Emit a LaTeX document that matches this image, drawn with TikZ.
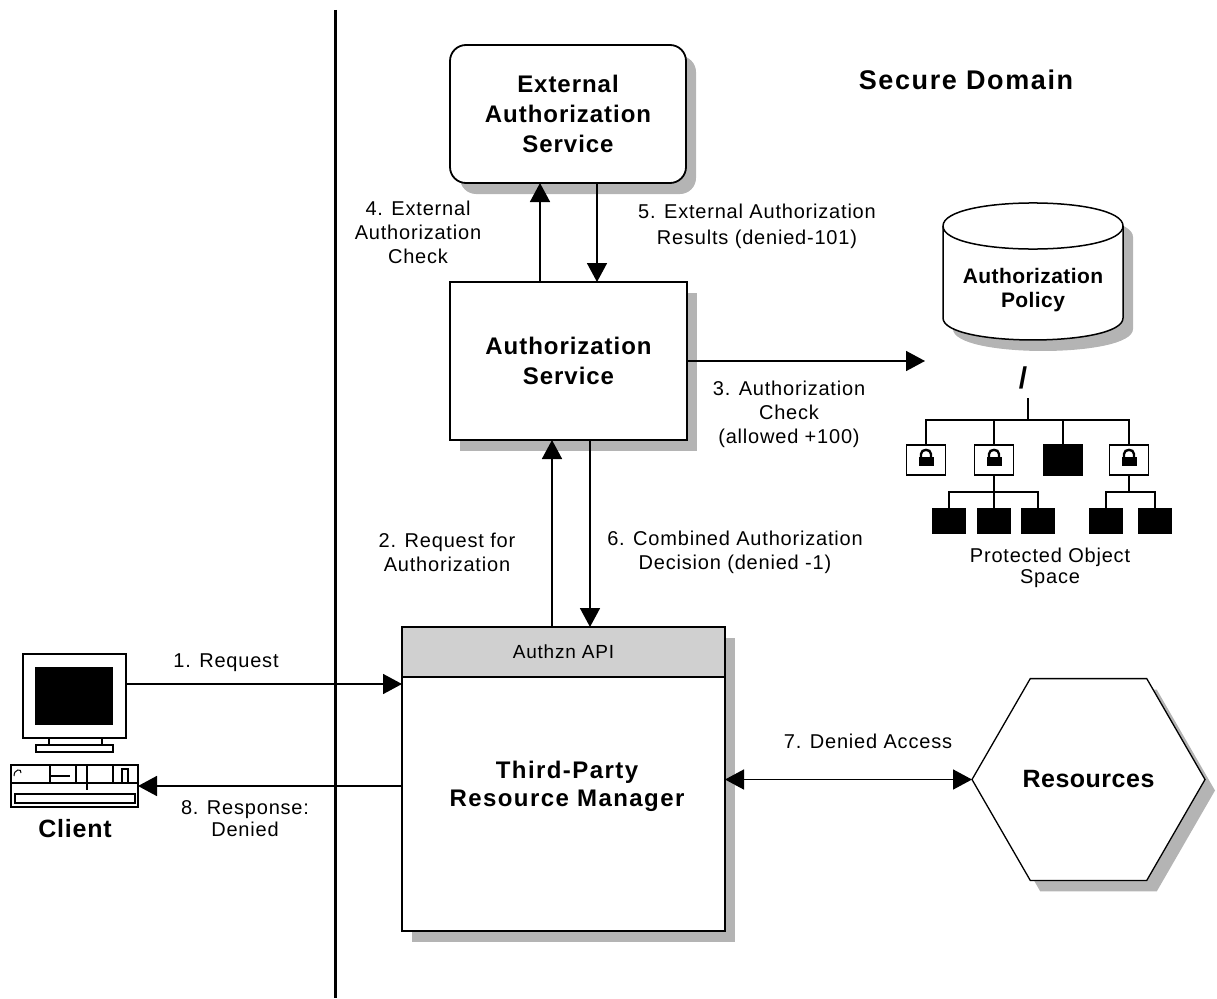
\documentclass[tikz,border=0pt]{standalone}
\usepackage{fontspec}
\setmainfont{Liberation Sans}
\usetikzlibrary{shapes.geometric,shadows,arrows.meta,calc}
\definecolor{shadowgray}{HTML}{B4B4B4}
\definecolor{apigray}{HTML}{D0D0D0}
\newcommand\lsp[1]{\addfontfeature{LetterSpace=#1}}
\tikzset{
  padlock/.pic={
    \fill (-7.5,-3) rectangle (7.5,6);
    \draw[line width=2.4pt] (-5,-3) -- (-5,-6) .. controls (-5,-11.5) and (5,-11.5) .. (5,-6) -- (5,-3);
  }
}
\begin{document}
\begin{tikzpicture}[x=1pt,y=-1pt,
  lbl/.style={font=\fontsize{20}{24}\selectfont\lsp{4}, align=center, inner sep=0pt},
  boldtxt/.style={font=\fontsize{24}{30}\selectfont\bfseries\lsp{4}, align=center},
  shad/.style={drop shadow={shadow xshift=10pt,shadow yshift=-11pt,fill=shadowgray,opacity=1}},
  box/.style={draw, line width=1.8pt, fill=white, inner sep=0pt, outer sep=0pt, shad},
  arr/.style={line width=1.6pt, -{Triangle[length=19pt,width=20pt]}},
  arrtwo/.style={line width=1.6pt, {Triangle[length=19pt,width=20pt]}-{Triangle[length=19pt,width=20pt]}},
  tline/.style={line width=1.4pt},
  tbox/.style={draw, line width=1.4pt, minimum width=39pt, minimum height=30pt, inner sep=0pt, outer sep=0pt},
  tleaf/.style={draw, fill=black, line width=1pt, minimum width=33pt, minimum height=25pt, inner sep=0pt, outer sep=0pt},
  pcline/.style={line width=1.3pt}
]
\useasboundingbox (0,0) rectangle (1217,998);

% divider
\coordinate (dtop) at (335,10);
\coordinate (dbot) at (335,998);
\draw[line width=3pt] (dtop) -- (dbot);

\node[boldtxt, font=\fontsize{27}{30}\selectfont\bfseries\lsp{6}] (secure) at (966,80) {Secure Domain};

% external authorization service
\node[box, rounded corners=16pt, minimum width=236pt, minimum height=138pt, boldtxt] (eas) at (568,114) {External\\Authorization\\Service};

% authorization service
\node[box, minimum width=237pt, minimum height=158pt, boldtxt] (as) at (568.5,361) {Authorization\\Service};

% resource manager
\node[box, minimum width=323pt, minimum height=304pt] (rm) at (563.5,779) {};
\node[draw, fill=apigray, line width=1.8pt, minimum width=323pt, minimum height=50pt, inner sep=0pt, outer sep=0pt, font=\fontsize{19}{22}\selectfont\lsp{4}] (api) at (563.5,652) {Authzn API};
\node[boldtxt, font=\fontsize{24}{28}\selectfont\bfseries\lsp{6}] (rmtext) at (567,786) {Third-Party\\Resource Manager};

% resources hexagon
\node[regular polygon, regular polygon sides=6, minimum size=233pt, draw, line width=1.3pt, fill=white, inner sep=0pt, outer sep=0pt, shad, font=\fontsize{25}{28}\selectfont\bfseries\lsp{2}] (res) at (1088.5,779.5) {Resources};

% cylinder (authorization policy)
\fill[shadowgray] (953,237) -- (953,329) .. controls (953,358.3) and (1133,358.3) .. (1133,329) -- (1133,237) .. controls (1133,206.3) and (953,206.3) .. (953,237) -- cycle;
\filldraw[fill=white, line width=1.5pt] (943,226) -- (943,318) .. controls (943,347.3) and (1123,347.3) .. (1123,318) -- (1123,226) .. controls (1123,195.3) and (943,195.3) .. (943,226) -- cycle;
\draw[line width=1.5pt] (943,226) .. controls (943,256.7) and (1123,256.7) .. (1123,226);
\node[boldtxt, font=\fontsize{21}{24}\selectfont\bfseries\lsp{2}] (policy) at (1033,290) {Authorization\\Policy};

% protected object space
\node[font=\fontsize{30}{30}\selectfont\bfseries, inner sep=0pt] (slash) at (1023,378) {/};
\coordinate (root) at (1028,398);
\coordinate (bus) at (1028,420);
\coordinate (sbus) at (1028,492);
\node[tbox] (t1) at (926,460) {};
\node[tbox] (t2) at (994,460) {};
\node[tbox, fill=black] (t3) at (1063,460) {};
\node[tbox] (t4) at (1129,460) {};
\pic at (t1) {padlock};
\pic at (t2) {padlock};
\pic at (t4) {padlock};
\node[tleaf] (l21) at (949,520.5) {};
\node[tleaf] (l22) at (994,520.5) {};
\node[tleaf] (l23) at (1038,520.5) {};
\node[tleaf] (l41) at (1106,520.5) {};
\node[tleaf] (l42) at (1155,520.5) {};
\draw[tline] (root) -- (bus);
\draw[tline] (t1.north) |- (t4.north |- bus) -- (t4.north);
\draw[tline] (t2.north) -- (t2.north |- bus);
\draw[tline] (t3.north) -- (t3.north |- bus);
\draw[tline] (t2.south) -- (t2.south |- sbus);
\draw[tline] (l21.north) |- (l23.north |- sbus) -- (l23.north);
\draw[tline] (l22.north) -- (l22.north |- sbus);
\draw[tline] (t4.south) -- (t4.south |- sbus);
\draw[tline] (l41.north) |- (l42.north |- sbus) -- (l42.north);
\node[lbl, font=\fontsize{20}{21}\selectfont\lsp{4}] (pos) at (1050,568) {Protected Object\\Space};

% client computer
\node[draw, pcline, minimum width=103pt, minimum height=84pt, inner sep=0pt, outer sep=0pt] (mon) at (74.5,696) {};
\node[fill=black, minimum width=78pt, minimum height=58pt, inner sep=0pt] (scr) at (74,695.5) {};
\draw[pcline] (49,738) -- (49,746) (102,738) -- (102,746);
\draw[pcline] (36,745) rectangle (113,752);
\node[draw, pcline, minimum width=127pt, minimum height=42pt, inner sep=0pt, outer sep=0pt] (kb) at (74.5,786) {};
\draw[pcline] (kb.west |- 0,783) -- (kb.east |- 0,783);
\draw[pcline] (15,794) rectangle (135,803);
\draw[pcline] (50,765) -- (50,783) (50,776) -- (70,776) (76,765) -- (76,783) (87,765) -- (87,790) (113,765) -- (113,783);
\draw[line width=2pt] (122,783) -- (122,769) -- (128,769) -- (128,783);
\draw[line width=1pt] (14,776) .. controls (14,769) and (22,768) .. (21,773);
\node[boldtxt, font=\fontsize{25}{28}\selectfont\bfseries\lsp{3}] (client) at (75,829) {Client};

% connectors
\coordinate (c1) at (0,684);
\draw[arr] (mon.east |- c1) -- (rm.west |- c1);
\node[lbl] (lab1) at (226,663) {1. Request};

\coordinate (c2) at (552,0);
\coordinate (c6) at (590,0);
\draw[arr] (c2 |- rm.north) -- (c2 |- as.south);
\draw[arr] (c6 |- as.south) -- (c6 |- rm.north);
\node[lbl] (lab2) at (447,552) {2. Request for\\Authorization};
\node[lbl] (lab6) at (735,552) {6. Combined Authorization\\Decision (denied -1)};

\coordinate (c3) at (925,0);
\draw[arr] (as.east) -- (as.east -| c3);
\node[lbl] (lab3) at (789,414) {3. Authorization\\Check\\(allowed +100)};

\coordinate (c4) at (540,0);
\coordinate (c5) at (597,0);
\draw[arr] (c4 |- as.north) -- (c4 |- eas.south);
\draw[arr] (c5 |- eas.south) -- (c5 |- as.north);
\node[lbl] (lab4) at (418,232) {4. External\\Authorization\\Check};
\node[lbl, font=\fontsize{20}{26}\selectfont\lsp{4}] (lab5) at (757,226) {5. External Authorization\\Results (denied-101)};

\draw[arrtwo] (rm.east |- res.180) -- (res.180);
\node[lbl] (lab7) at (868,741) {7. Denied Access};

\draw[arr] (rm.west |- kb.east) -- (kb.east);
\node[lbl, font=\fontsize{20}{22}\selectfont\lsp{4}] (lab8) at (245,819) {8. Response:\\Denied};
\end{tikzpicture}
\end{document}
